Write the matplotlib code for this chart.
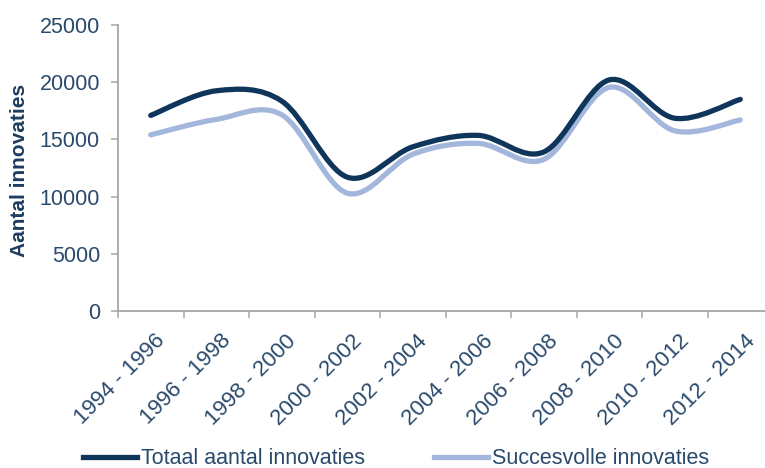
import numpy as np
import matplotlib
matplotlib.use('Agg')
from matplotlib import pyplot as plt
from matplotlib.path import Path
from matplotlib.patches import PathPatch
from matplotlib.lines import Line2D
from matplotlib.transforms import ScaledTranslation

periods = ['1994 - 1996', '1996 - 1998', '1998 - 2000', '2000 - 2002', '2002 - 2004',
           '2004 - 2006', '2006 - 2008', '2008 - 2010', '2010 - 2012', '2012 - 2014']
totaal = [17100, 19250, 18350, 11700, 14350, 15350, 13900, 20200, 16850, 18500]
succesvol = [15400, 16750, 17150, 10300, 13700, 14650, 13250, 19550, 15750, 16700]
series_names = ['Totaal aantal innovaties', 'Succesvolle innovaties']
yticks = [0, 5000, 10000, 15000, 20000, 25000]

DARK = '#0f355b'
LIGHT = '#a3b7dc'
TEXT = '#2a4a6c'
AXIS = '#a6a6a6'

plt.rcParams['font.family'] = ['Liberation Sans', 'DejaVu Sans']


def smooth_path(xs, ys):
    # cubic bezier through every point, control points as in a catmull-rom spline
    pts = np.column_stack([xs, ys]).astype(float)
    padded = np.vstack([pts[:1], pts, pts[-1:]])
    verts = [pts[0]]
    codes = [Path.MOVETO]
    for i in range(len(pts) - 1):
        p0, p1, p2, p3 = padded[i], padded[i + 1], padded[i + 2], padded[i + 3]
        verts += [p1 + (p2 - p0) / 6, p2 - (p3 - p1) / 6, p2]
        codes += [Path.CURVE4] * 3
    return Path(verts, codes)


fig = plt.figure(figsize=(7.65, 4.68), dpi=100)
ax = fig.add_axes([118 / 765, 157 / 468, 655 / 765, 286 / 468])

x = np.arange(len(periods))
for values, color in [(succesvol, LIGHT), (totaal, DARK)]:
    ax.add_patch(PathPatch(smooth_path(x, values), fill=False, edgecolor=color,
                           linewidth=3.8, capstyle='round', joinstyle='round'))

ax.set_xlim(-0.5, len(periods) - 0.5)
ax.set_ylim(0, 25000)

for side in ['top', 'right']:
    ax.spines[side].set_visible(False)
for side in ['left', 'bottom']:
    ax.spines[side].set_color(AXIS)
    ax.spines[side].set_linewidth(1.3)

ax.set_yticks(yticks)
ax.set_yticklabels([str(v) for v in yticks])
ax.tick_params(axis='y', length=5, width=1.1, color=AXIS, pad=8, labelsize=15.5, labelcolor=TEXT)

# category boundaries get the tick marks, centres get the labels
ax.set_xticks(np.arange(-0.5, len(periods)), minor=False)
ax.set_xticklabels([])
ax.set_xticks(x, minor=True)
ax.set_xticklabels(periods, minor=True, rotation=45, ha='right', va='top',
                   rotation_mode='anchor', fontsize=16, color=TEXT)
ax.tick_params(axis='x', which='major', length=5, width=1.1, color=AXIS, direction='out')
ax.tick_params(axis='x', which='minor', length=0, pad=14)
shift = ScaledTranslation(4 / 100, 0, fig.dpi_scale_trans)
for lbl in ax.get_xticklabels(minor=True):
    lbl.set_transform(lbl.get_transform() + shift)

fig.text(20 / 765, 1 - 170 / 468, 'Aantal innovaties', rotation=90, ha='center', va='center',
         fontsize=15, fontweight='bold', color='#1d3d60')

handles = [Line2D([], [], color=DARK, linewidth=3.8), Line2D([], [], color=LIGHT, linewidth=3.8)]
fig.legend(handles, series_names, loc='center left', bbox_to_anchor=(83 / 765, 1 - 459 / 468),
           ncol=2, frameon=False, fontsize=15.5, labelcolor=TEXT, handlelength=2.5,
           handletextpad=0.2, columnspacing=3.2, borderpad=0, borderaxespad=0)

fig.savefig('out.png', dpi=100)
